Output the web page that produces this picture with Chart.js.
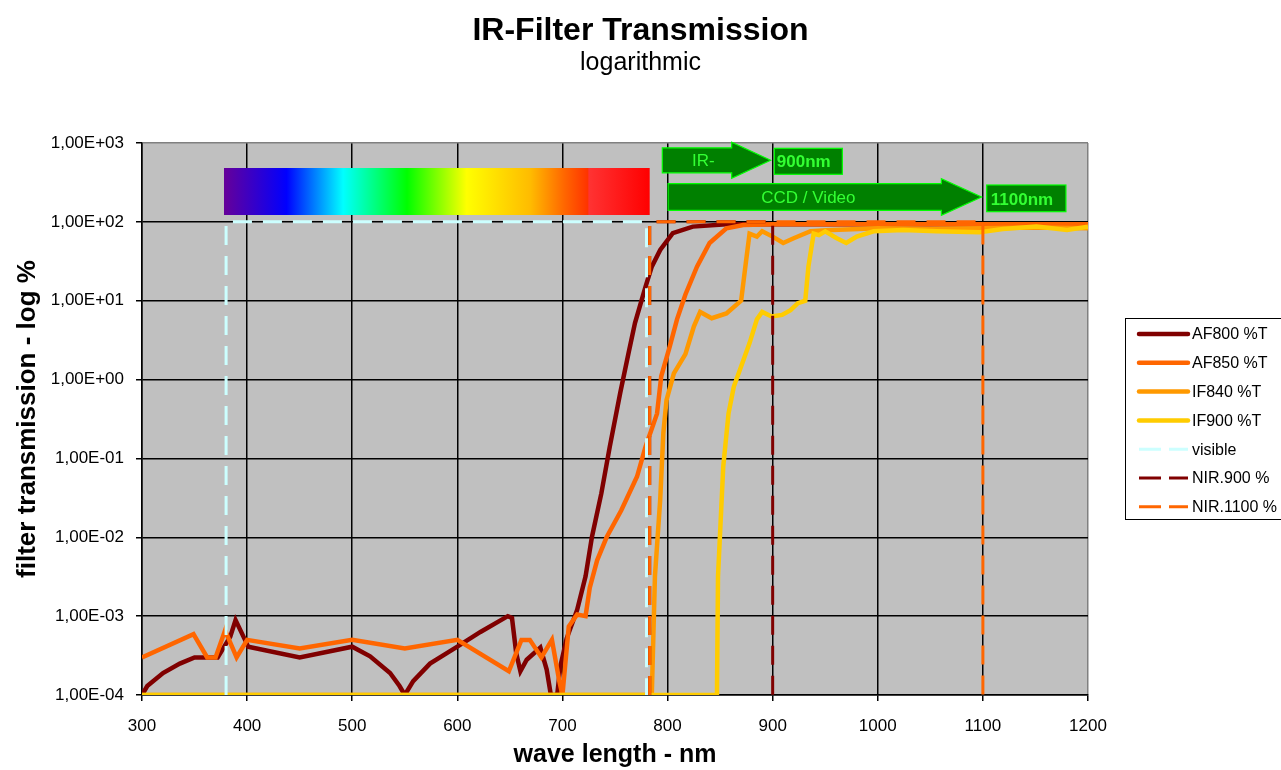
<!DOCTYPE html>
<html>
<head>
<meta charset="utf-8">
<title>IR-Filter Transmission</title>
<script src="https://cdn.jsdelivr.net/npm/chart.js@4.4.1/dist/chart.umd.min.js"></script>
<style>
  html, body { margin: 0; padding: 0; background: #fff; }
  canvas { display: block; }
</style>
</head>
<body>
<canvas id="irChart" width="1281" height="770"></canvas>
<script>
// wave length (nm) / transmission (%)
const af800Nm  = [300, 305, 320, 336, 350, 372, 384, 389, 398, 401, 450, 500, 517, 536, 545, 550, 558, 574, 590, 600, 622, 648, 652, 656, 660, 666, 679, 685, 689, 695, 698, 704, 714, 722, 728, 737, 745, 755, 763, 769, 779, 785, 793, 805, 824, 856, 900, 1000, 1100, 1200];
const af800Pct = [1.0e-4, 1.3e-4, 1.9e-4, 2.5e-4, 3.0e-4, 3.0e-4, 5.5e-4, 8.9e-4, 5.0e-4, 4.1e-4, 3.0e-4, 4.1e-4, 3.1e-4, 1.9e-4, 1.3e-4, 1.0e-4, 1.5e-4, 2.5e-4, 3.4e-4, 4.1e-4, 6.3e-4, 1.0e-3, 9.5e-4, 3.4e-4, 2.0e-4, 2.8e-4, 4.0e-4, 2.1e-4, 1.0e-4, 1.0e-4, 2.3e-4, 5.2e-4, 1.2e-3, 3.2e-3, 1.0e-2, 3.6e-2, 0.14, 0.68, 2.2, 5.2, 15, 27, 44, 72, 87, 93, 93, 93, 93, 93];

const af850Nm  = [300, 349, 362, 370, 379, 390, 400, 450, 500, 550, 600, 649, 661, 669, 680, 690, 697, 700, 706, 714, 722, 726, 733, 742, 756, 771, 779, 790, 794, 802, 809, 817, 828, 840, 856, 872, 900, 1000, 1100, 1200];
const af850Pct = [3.0e-4, 5.9e-4, 3.0e-4, 3.0e-4, 6.6e-4, 3.0e-4, 5.0e-4, 3.9e-4, 5.0e-4, 3.9e-4, 5.0e-4, 2.0e-4, 5.0e-4, 5.0e-4, 3.0e-4, 5.0e-4, 1.5e-4, 1.0e-4, 7.4e-4, 1.05e-3, 1.0e-3, 2.3e-3, 5.1e-3, 1.0e-2, 2.2e-2, 5.9e-2, 0.14, 0.37, 1.1, 2.6, 5.8, 12, 27, 54, 83, 91, 93, 93, 93, 93];

const if840Nm  = [300, 785, 788, 793, 796, 799, 806, 817, 825, 831, 842, 856, 870, 874, 878, 885, 890, 900, 910, 920, 936, 951, 1000, 1050, 1100, 1150, 1200];
const if840Pct = [1.0e-4, 1.0e-4, 3.2e-3, 3.0e-2, 0.21, 0.55, 1.2, 2.1, 4.7, 7.2, 6.0, 6.9, 10, 27, 71, 65, 76, 65, 54, 62, 76, 78, 83, 81, 83, 85, 83];

const if900Nm  = [300, 847, 848, 853, 858, 863, 871, 878, 885, 890, 899, 909, 917, 924, 931, 934, 939, 944, 950, 961, 970, 980, 996, 1024, 1056, 1097, 1119, 1151, 1180, 1200];
const if900Pct = [1.0e-4, 1.0e-4, 3.2e-3, 7.9e-2, 0.37, 0.81, 1.6, 2.9, 5.8, 7.2, 6.3, 6.6, 7.6, 9.3, 10, 27, 71, 68, 76, 62, 54, 65, 76, 79, 76, 74, 81, 87, 79, 87];

// marker frames
const visibleNm  = [380, 380, 780, 780];
const visiblePct = [1e-4, 100, 100, 1e-4];
const nir900Nm   = [783, 783, 900, 900];
const nir900Pct  = [1e-4, 100, 100, 1e-4];
const nir1100Nm  = [783, 783, 1100, 1100];
const nir1100Pct = [1e-4, 100, 100, 1e-4];

const seriesNames = ['AF800 %T', 'AF850 %T', 'IF840 %T', 'IF900 %T', 'visible', 'NIR.900 %', 'NIR.1100 %'];
const xTickLabels = ['300', '400', '500', '600', '700', '800', '900', '1000', '1100', '1200'];
const yTickValues = [1e-4, 1e-3, 1e-2, 1e-1, 1, 10, 100, 1000];
const yTickLabels = ['1,00E-04', '1,00E-03', '1,00E-02', '1,00E-01', '1,00E+00', '1,00E+01', '1,00E+02', '1,00E+03'];

const FONT = "'Liberation Sans', Arial, sans-serif";
Chart.defaults.font.family = FONT;
Chart.defaults.color = '#000';

function pts(xs, ys) {
    return xs.map((x, i) => ({ x: x, y: ys[i] }));
}

const lineData = [
    [af800Nm, af800Pct, '#800000', []],
    [af850Nm, af850Pct, '#FF6600', []],
    [if840Nm, if840Pct, '#FF9900', []],
    [if900Nm, if900Pct, '#FFCC00', []],
    [visibleNm, visiblePct, '#CCFFFF', [19, 11]],
    [nir900Nm, nir900Pct, '#800000', [19, 11]],
    [nir1100Nm, nir1100Pct, '#FF6600', [19, 11]]
];

const datasets = lineData.map((d, i) => ({
    label: seriesNames[i],
    data: pts(d[0], d[1]),
    borderColor: d[2],
    backgroundColor: d[2],
    borderDash: d[3],
    borderWidth: d[3].length ? 3 : 4.5,
    pointRadius: 0,
    tension: 0,
    fill: false,
    xAxisID: 'x',
    yAxisID: 'y',
    order: seriesNames.length - i   // later series on top, like the original
}));

// grey plot area
const plotBackground = {
    id: 'plotBackground',
    beforeDraw(chart) {
        const { ctx, chartArea: a } = chart;
        ctx.save();
        ctx.fillStyle = '#C0C0C0';
        ctx.fillRect(a.left, a.top, a.right - a.left, a.bottom - a.top);
        ctx.restore();
    }
};

function arrow(ctx, x0, xb, xt, yc, bodyH, headH) {
    ctx.beginPath();
    ctx.moveTo(x0, yc - bodyH / 2);
    ctx.lineTo(xb, yc - bodyH / 2);
    ctx.lineTo(xb, yc - headH / 2);
    ctx.lineTo(xt, yc);
    ctx.lineTo(xb, yc + headH / 2);
    ctx.lineTo(xb, yc + bodyH / 2);
    ctx.lineTo(x0, yc + bodyH / 2);
    ctx.closePath();
    ctx.fill();
    ctx.stroke();
}

// spectrum bar and the green arrows
const annotations = {
    id: 'annotations',
    afterDatasetsDraw(chart) {
        const { ctx, chartArea: a } = chart;
        const x = v => chart.scales.x.getPixelForValue(v);
        const top = a.top;
        ctx.save();

        const sx0 = x(378), sx1 = x(783);
        const g = ctx.createLinearGradient(sx0, 0, sx1, 0);
        g.addColorStop(0, '#660099');
        g.addColorStop(0.147, '#0000FF');
        g.addColorStop(0.28, '#00FFFF');
        g.addColorStop(0.43, '#00FF00');
        g.addColorStop(0.57, '#FFFF00');
        g.addColorStop(0.72, '#FFBB00');
        g.addColorStop(0.80, '#FF6600');
        g.addColorStop(0.855, '#FF3300');
        g.addColorStop(0.857, '#FF3333');
        g.addColorStop(1, '#FF0000');
        ctx.fillStyle = g;
        ctx.fillRect(sx0, top + 25, sx1 - sx0, 47);

        ctx.fillStyle = '#008000';
        ctx.strokeStyle = '#00FF00';
        ctx.lineWidth = 1.2;
        arrow(ctx, x(795), x(861), x(898), top + 17.3, 25, 36);
        arrow(ctx, x(800.5), x(1060.5), x(1098.7), top + 54, 26.7, 36.7);
        ctx.fillRect(x(901.6), top + 5.3, x(966.3) - x(901.6), 26);
        ctx.strokeRect(x(901.6), top + 5.3, x(966.3) - x(901.6), 26);
        ctx.fillRect(x(1103.6), top + 42, x(1179) - x(1103.6), 26.7);
        ctx.strokeRect(x(1103.6), top + 42, x(1179) - x(1103.6), 26.7);

        ctx.fillStyle = '#33FF33';
        ctx.textBaseline = 'middle';
        ctx.textAlign = 'center';
        ctx.font = '17px ' + FONT;
        ctx.fillText('IR-', x(834), top + 18);
        ctx.fillText('CCD / Video', x(934), top + 55);
        ctx.textAlign = 'left';
        ctx.font = 'bold 17px ' + FONT;
        ctx.fillText('900nm', x(904), top + 19);
        ctx.fillText('1100nm', x(1107.5), top + 57);
        ctx.restore();
    }
};

// boxed legend on the right, built from the datasets
const boxLegend = {
    id: 'boxLegend',
    afterDraw(chart) {
        const { ctx } = chart;
        const bx = 1125, by = 318, bw = 170, bh = 201;
        ctx.save();
        ctx.fillStyle = '#fff';
        ctx.fillRect(bx, by, bw, bh);
        ctx.strokeStyle = '#000';
        ctx.lineWidth = 1;
        ctx.strokeRect(bx + 0.5, by + 0.5, bw, bh);
        ctx.font = '16px ' + FONT;
        ctx.textBaseline = 'middle';
        ctx.fillStyle = '#000';
        chart.data.datasets.forEach((ds, i) => {
            const y = 334 + i * 28.8;
            ctx.beginPath();
            ctx.strokeStyle = ds.borderColor;
            ctx.lineWidth = ds.borderDash.length ? 3 : 4.5;
            ctx.lineCap = ds.borderDash.length ? 'butt' : 'round';
            ctx.setLineDash(ds.borderDash.length ? [22, 8] : []);
            ctx.moveTo(1139, y);
            ctx.lineTo(1188, y);
            ctx.stroke();
            ctx.setLineDash([]);
            ctx.fillText(ds.label, 1192, y + 1);
        });
        ctx.restore();
    }
};

const gridColor = edge => c => (c.tick && c.tick.value === edge ? '#808080' : '#000');

new Chart(document.getElementById('irChart'), {
    type: 'line',
    data: { datasets: datasets },
    plugins: [plotBackground, annotations, boxLegend],
    options: {
        responsive: false,
        animation: false,
        layout: { padding: { top: 0, left: 0, right: 0, bottom: 0 } },
        plugins: {
            legend: { display: false },
            tooltip: { enabled: false },
            title: {
                display: true,
                text: 'IR-Filter Transmission',
                font: { size: 32, weight: 'bold' },
                color: '#000',
                padding: { top: 12, bottom: 0 }
            },
            subtitle: {
                display: true,
                text: 'logarithmic',
                font: { size: 25, lineHeight: 1 },
                color: '#000',
                padding: { top: 0, bottom: 67.6 }
            }
        },
        scales: {
            x: {
                type: 'linear',
                position: 'bottom',
                min: 300,
                max: 1200,
                ticks: {
                    stepSize: 100,
                    font: { size: 17 },
                    padding: 15,
                    color: '#000',
                    callback: (v, i) => xTickLabels[i]
                },
                grid: { color: gridColor(1200), lineWidth: 1.5, tickLength: 6, tickColor: '#000' },
                border: { color: '#000', width: 1.5 },
                title: {
                    display: true,
                    text: 'wave length - nm',
                    font: { size: 25, weight: 'bold' },
                    color: '#000',
                    padding: { top: 0, bottom: 0 }
                },
                afterFit(s) { s.height = 75; }
            },
            y: {
                type: 'logarithmic',
                position: 'left',
                min: 1e-4,
                max: 1e3,
                afterBuildTicks(s) { s.ticks = yTickValues.map(v => ({ value: v })); },
                ticks: {
                    font: { size: 17 },
                    padding: 12,
                    color: '#000',
                    callback: (v, i) => yTickLabels[i]
                },
                grid: { color: gridColor(1000), lineWidth: 1.5, tickLength: 6, tickColor: '#000' },
                border: { color: '#000', width: 1.5 },
                title: {
                    display: true,
                    text: 'filter transmission - log %',
                    font: { size: 26, weight: 'bold' },
                    color: '#000',
                    padding: { top: 12, bottom: 0 }
                },
                afterFit(s) { s.width = 142; }
            },
            yR: {
                type: 'linear',
                position: 'right',
                display: true,
                grid: { display: false, drawTicks: false },
                ticks: { display: false },
                border: { display: false },
                afterFit(s) { s.width = 193; }
            }
        }
    }
});
</script>
</body>
</html>
